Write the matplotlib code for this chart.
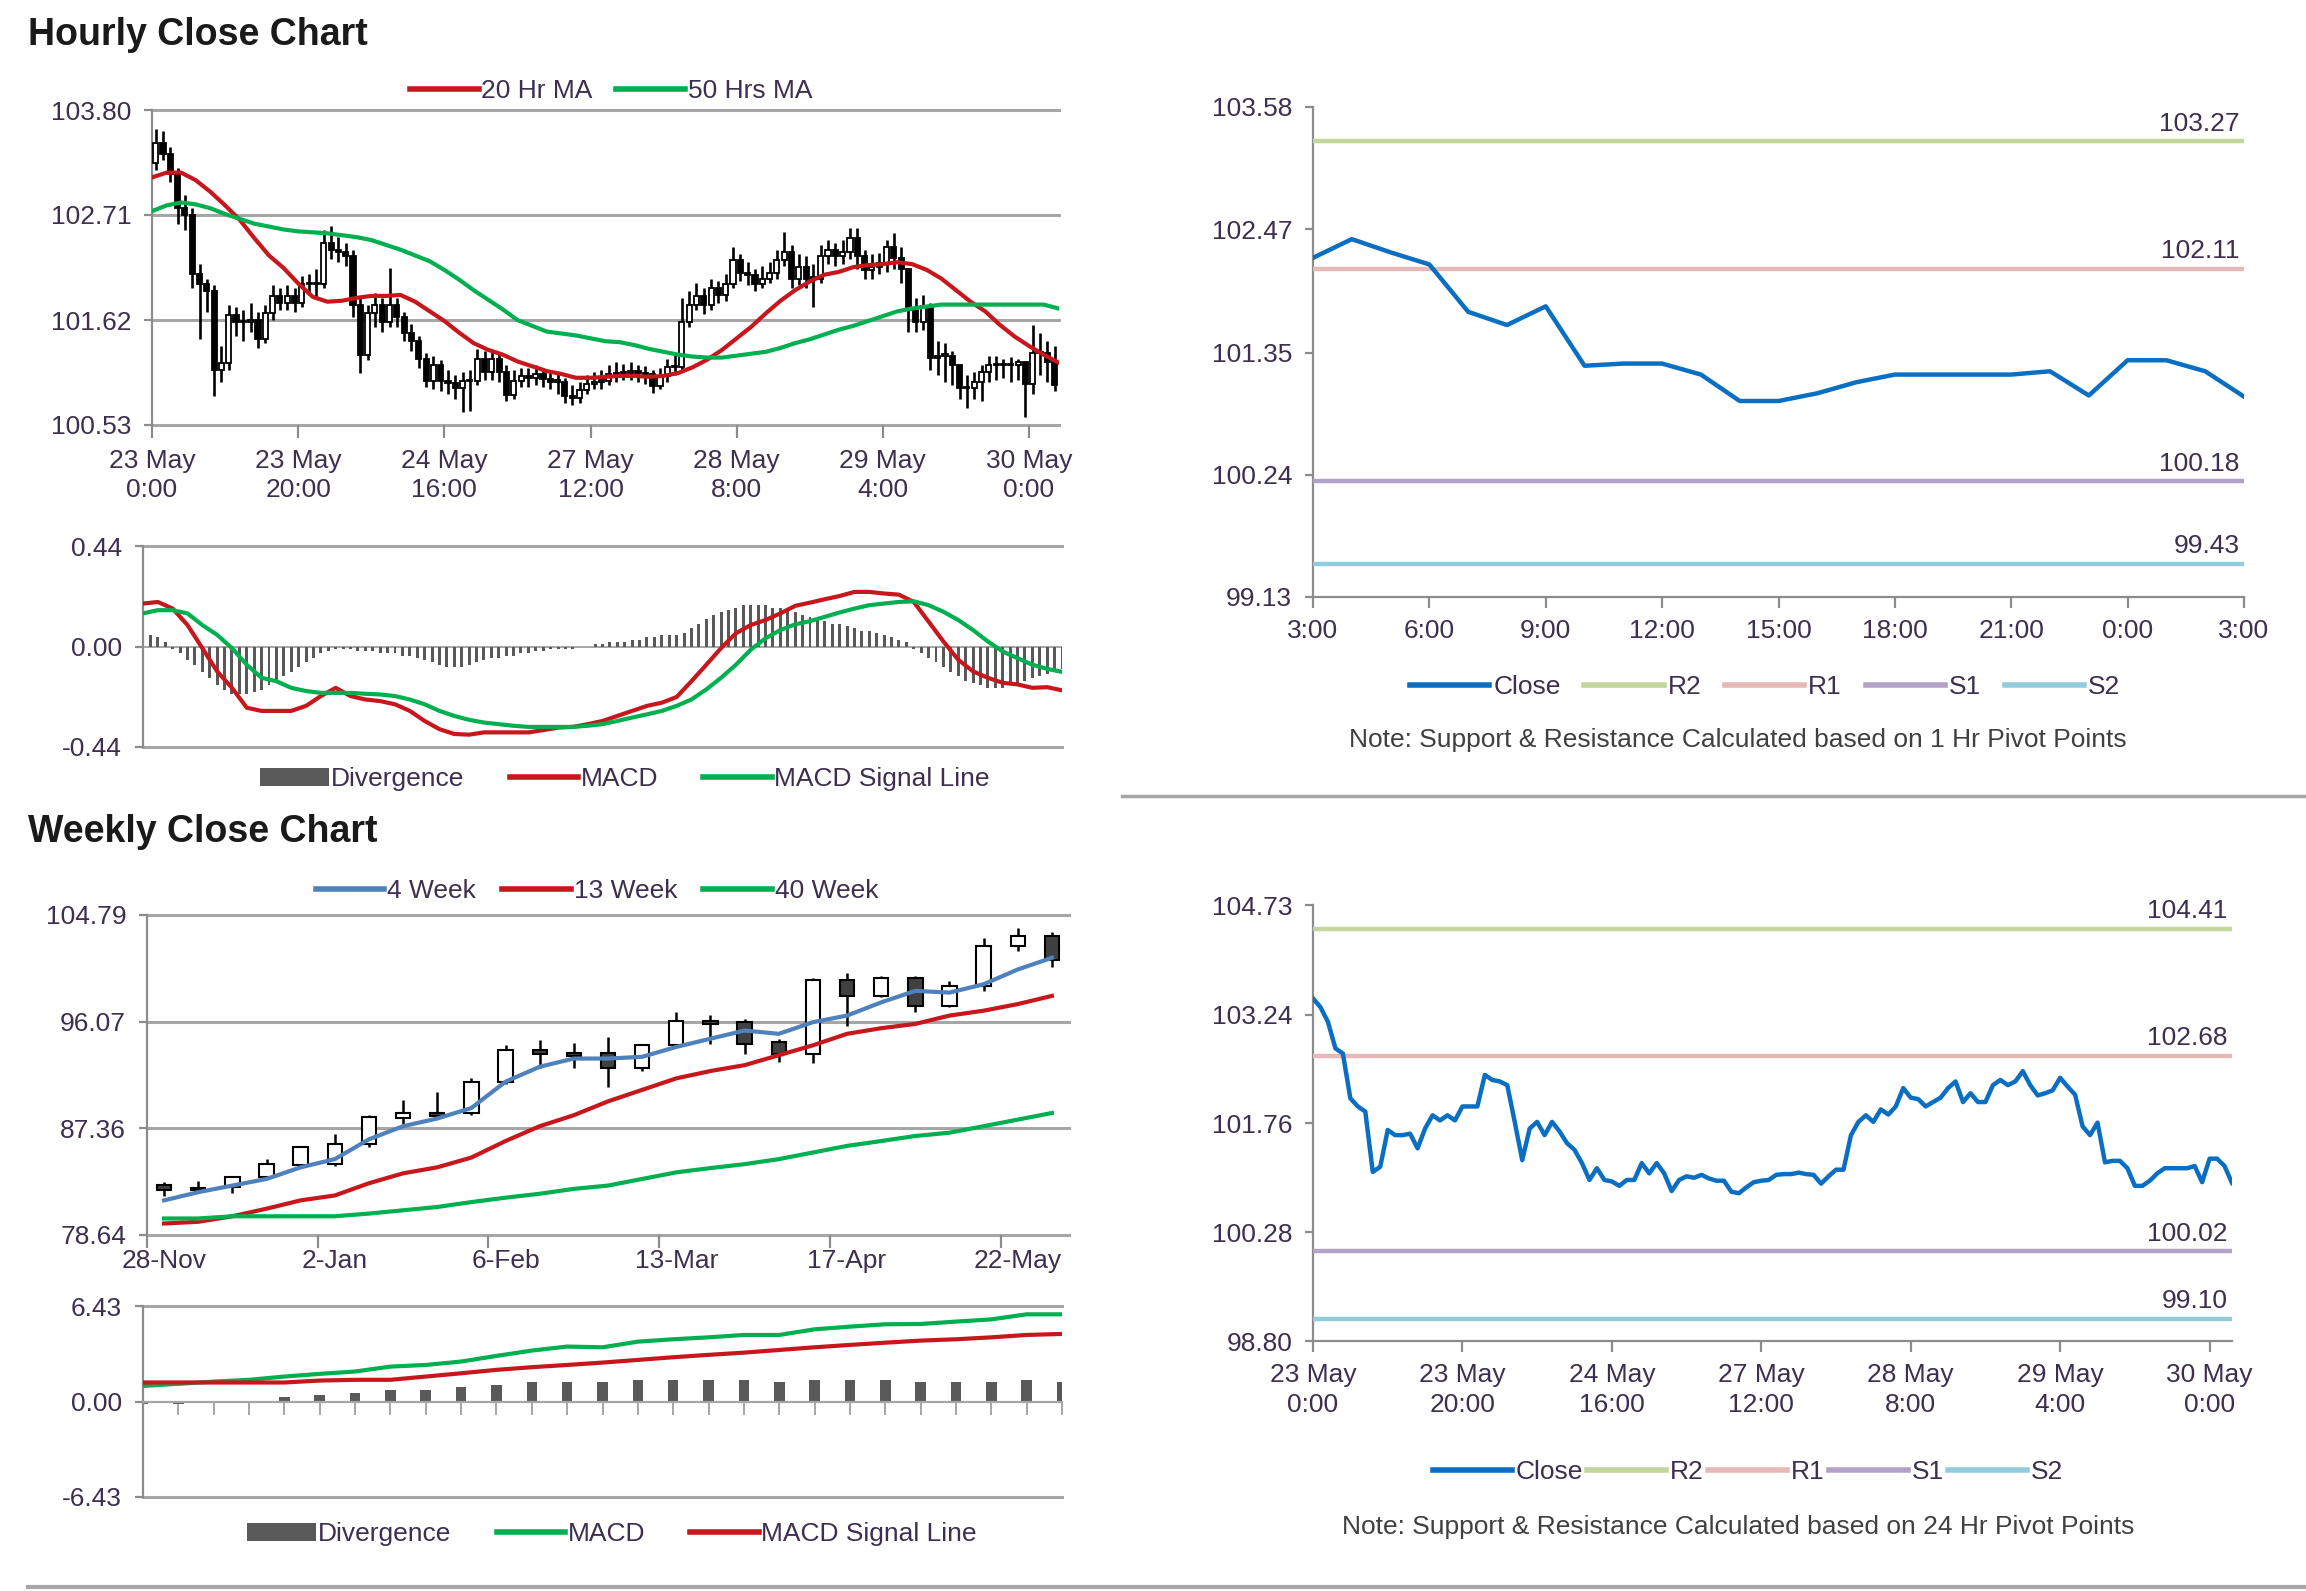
import numpy as np
import matplotlib
matplotlib.use("Agg")
import matplotlib.pyplot as plt
from matplotlib.lines import Line2D
from matplotlib.patches import Patch

plt.rcParams['font.family'] = ['Liberation Sans', 'DejaVu Sans']

# --- hourly data (23 May 0:00 .. 30 May 3:00) ---
hourly_first_open = 103.25
hourly_close = [
    103.46, 103.34, 103.14, 102.78, 102.71, 102.10, 101.99, 101.92, 101.10, 101.17,
    101.67, 101.60, 101.60, 101.62, 101.42, 101.69, 101.87, 101.80, 101.87, 101.80,
    101.99, 101.99, 101.99, 102.42, 102.35, 102.33, 102.28, 101.78, 101.26, 101.69,
    101.78, 101.60, 101.78, 101.65, 101.49, 101.40, 101.22, 100.99, 101.15, 100.99,
    100.97, 100.91, 100.99, 100.99, 101.22, 101.08, 101.22, 101.08, 100.84, 100.99,
    101.04, 101.02, 101.06, 101.01, 100.98, 100.98, 100.83, 100.81, 100.89, 100.96,
    100.98, 100.99, 101.06, 101.07, 101.07, 101.09, 101.07, 101.06, 100.94, 101.04,
    101.13, 101.13, 101.60, 101.78, 101.87, 101.78, 101.95, 101.88, 101.99, 102.24,
    102.11, 102.09, 101.99, 102.05, 102.11, 102.24, 102.33, 102.05, 102.17, 102.05,
    102.05, 102.28, 102.35, 102.28, 102.33, 102.47, 102.28, 102.14, 102.17, 102.21,
    102.38, 102.26, 102.15, 101.72, 101.60, 101.77, 101.23, 101.25, 101.25, 101.15,
    100.91, 100.91, 100.98, 101.08, 101.15, 101.15, 101.15, 101.15, 101.18, 100.96,
    101.28, 101.28, 101.18, 100.95]
hourly_high = [
    103.60, 103.58, 103.42, 103.20, 102.92, 102.78, 102.20, 102.05, 101.98, 101.35,
    101.78, 101.75, 101.72, 101.80, 101.70, 101.78, 101.98, 101.95, 101.98, 101.95,
    102.08, 102.10, 102.15, 102.55, 102.60, 102.48, 102.42, 102.35, 101.85, 101.78,
    101.90, 101.85, 102.16, 101.85, 101.70, 101.58, 101.45, 101.28, 101.25, 101.20,
    101.10, 101.05, 101.08, 101.10, 101.32, 101.30, 101.30, 101.28, 101.15, 101.10,
    101.12, 101.12, 101.15, 101.12, 101.10, 101.08, 101.02, 100.95, 100.98, 101.05,
    101.08, 101.10, 101.15, 101.18, 101.16, 101.18, 101.15, 101.14, 101.10, 101.12,
    101.22, 101.28, 101.85, 101.92, 102.00, 101.95, 102.05, 102.02, 102.10, 102.38,
    102.30, 102.22, 102.15, 102.18, 102.22, 102.35, 102.53, 102.40, 102.30, 102.28,
    102.20, 102.40, 102.45, 102.42, 102.45, 102.57, 102.57, 102.35, 102.30, 102.32,
    102.45, 102.52, 102.38, 102.15, 101.85, 101.88, 101.80, 101.40, 101.38, 101.30,
    101.12, 101.05, 101.08, 101.15, 101.25, 101.25, 101.22, 101.24, 101.22, 101.18,
    101.57, 101.48, 101.40, 101.35]
hourly_low = [
    103.18, 103.28, 103.05, 102.62, 102.55, 101.95, 101.42, 101.70, 100.83, 100.98,
    101.10, 101.45, 101.40, 101.50, 101.33, 101.38, 101.62, 101.72, 101.72, 101.70,
    101.75, 101.88, 101.85, 101.95, 102.25, 102.22, 102.18, 101.65, 101.07, 101.20,
    101.55, 101.50, 101.55, 101.55, 101.40, 101.30, 101.12, 100.92, 100.90, 100.88,
    100.85, 100.80, 100.66, 100.68, 100.95, 101.00, 101.00, 100.98, 100.78, 100.80,
    100.92, 100.92, 100.95, 100.92, 100.90, 100.85, 100.76, 100.74, 100.76, 100.85,
    100.90, 100.90, 100.95, 100.98, 101.00, 101.00, 100.98, 100.96, 100.86, 100.90,
    100.98, 101.05, 101.10, 101.55, 101.72, 101.68, 101.72, 101.80, 101.82, 101.95,
    102.02, 101.98, 101.92, 101.95, 102.00, 102.05, 102.18, 101.95, 101.98, 101.95,
    101.75, 102.00, 102.20, 102.18, 102.20, 102.25, 102.15, 102.05, 102.05, 102.10,
    102.12, 102.15, 102.00, 101.50, 101.50, 101.52, 101.10, 101.05, 100.98, 100.95,
    100.80, 100.71, 100.80, 100.78, 100.98, 101.00, 101.02, 100.98, 101.00, 100.61,
    100.85, 101.05, 100.98, 100.88]

ma_hours = list(range(0, 125, 2))
ma20_hourly = [
    103.10, 103.15, 103.15, 103.07, 102.95, 102.81, 102.66, 102.47, 102.29, 102.16,
    102.00, 101.86, 101.81, 101.82, 101.85, 101.87, 101.87, 101.88, 101.81, 101.71,
    101.61, 101.49, 101.38, 101.31, 101.26, 101.19, 101.14, 101.09, 101.06, 101.02,
    101.02, 101.03, 101.04, 101.04, 101.03, 101.04, 101.07, 101.13, 101.21, 101.31,
    101.43, 101.55, 101.69, 101.82, 101.93, 102.02, 102.09, 102.12, 102.17, 102.19,
    102.20, 102.22, 102.20, 102.14, 102.05, 101.93, 101.81, 101.71, 101.57, 101.45,
    101.35, 101.26, 101.18]
ma50_hourly = [
    102.75, 102.81, 102.84, 102.82, 102.78, 102.72, 102.67, 102.62, 102.59, 102.56,
    102.54, 102.53, 102.52, 102.50, 102.48, 102.45, 102.40, 102.35, 102.29, 102.23,
    102.14, 102.04, 101.93, 101.83, 101.73, 101.62, 101.56, 101.50, 101.48, 101.46,
    101.43, 101.40, 101.39, 101.36, 101.32, 101.29, 101.26, 101.24, 101.23, 101.23,
    101.25, 101.27, 101.29, 101.33, 101.38, 101.42, 101.47, 101.52, 101.56, 101.61,
    101.66, 101.71, 101.74, 101.76, 101.78, 101.78, 101.78, 101.78, 101.78, 101.78,
    101.78, 101.78, 101.74]

macd_hourly = [
    0.188, 0.195, 0.166, 0.094, -0.007, -0.109, -0.181, -0.268, -0.282, -0.282,
    -0.282, -0.260, -0.217, -0.181, -0.217, -0.232, -0.239, -0.253, -0.282, -0.326,
    -0.362, -0.383, -0.386, -0.376, -0.376, -0.376, -0.376, -0.366, -0.355, -0.352,
    -0.340, -0.326, -0.304, -0.282, -0.260, -0.246, -0.221, -0.152, -0.080, -0.007,
    0.058, 0.094, 0.116, 0.145, 0.178, 0.192, 0.207, 0.221, 0.239, 0.239,
    0.232, 0.227, 0.195, 0.109, 0.022, -0.058, -0.109, -0.137, -0.159, -0.166,
    -0.181, -0.178, -0.192]
signal_hourly = [
    0.145, 0.159, 0.159, 0.145, 0.094, 0.051, -0.007, -0.080, -0.137, -0.152,
    -0.181, -0.195, -0.203, -0.203, -0.203, -0.207, -0.210, -0.217, -0.232, -0.253,
    -0.282, -0.304, -0.321, -0.333, -0.340, -0.347, -0.352, -0.352, -0.352, -0.352,
    -0.347, -0.340, -0.326, -0.311, -0.297, -0.282, -0.260, -0.232, -0.188, -0.137,
    -0.080, -0.014, 0.036, 0.072, 0.097, 0.111, 0.130, 0.149, 0.166, 0.181,
    0.188, 0.195, 0.198, 0.181, 0.152, 0.116, 0.072, 0.022, -0.022, -0.051,
    -0.080, -0.098, -0.111]
div_hourly = [
    0.05, 0.05, 0.04, 0.02, -0.01, -0.03, -0.06, -0.08, -0.11, -0.14,
    -0.17, -0.19, -0.21, -0.21, -0.21, -0.20, -0.19, -0.17, -0.15, -0.13,
    -0.11, -0.09, -0.07, -0.05, -0.03, -0.02, -0.01, -0.01, -0.01, -0.02,
    -0.02, -0.02, -0.03, -0.03, -0.03, -0.04, -0.04, -0.05, -0.06, -0.07,
    -0.08, -0.09, -0.09, -0.09, -0.08, -0.07, -0.06, -0.05, -0.05, -0.04,
    -0.04, -0.03, -0.03, -0.02, -0.02, -0.01, -0.01, -0.01, -0.01, 0.00,
    0.00, 0.01, 0.01, 0.02, 0.02, 0.02, 0.03, 0.03, 0.04, 0.04,
    0.05, 0.05, 0.05, 0.06, 0.08, 0.10, 0.12, 0.14, 0.15, 0.16,
    0.17, 0.18, 0.18, 0.18, 0.18, 0.17, 0.17, 0.16, 0.15, 0.14,
    0.13, 0.12, 0.11, 0.10, 0.10, 0.09, 0.08, 0.07, 0.07, 0.06,
    0.05, 0.04, 0.03, 0.02, -0.01, -0.03, -0.05, -0.07, -0.09, -0.11,
    -0.13, -0.15, -0.16, -0.17, -0.18, -0.18, -0.18, -0.17, -0.16, -0.15,
    -0.14, -0.13, -0.12, -0.11, -0.10]

hourly_ticks = [0, 20, 40, 60, 80, 100, 120]
hourly_labels = ['23 May\n0:00', '23 May\n20:00', '24 May\n16:00', '27 May\n12:00',
                 '28 May\n8:00', '29 May\n4:00', '30 May\n0:00']

# --- weekly data ---
weekly_open = [82.75, 82.50, 82.55, 83.36, 84.40, 84.45, 86.05, 88.20, 88.65, 88.60,
               91.12, 93.74, 93.55, 93.55, 92.25, 94.14, 96.16, 96.03, 94.41, 93.47,
               99.45, 98.18, 99.64, 97.38, 99.00, 102.28, 103.04]
weekly_high = [82.95, 83.03, 83.49, 84.84, 85.95, 86.86, 88.43, 89.69, 90.31, 91.50,
               94.14, 94.55, 94.33, 94.82, 94.28, 96.84, 96.62, 96.30, 94.63, 99.67,
               100.07, 99.80, 99.80, 99.40, 102.90, 103.71, 103.44]
weekly_low = [81.80, 82.14, 82.06, 83.22, 84.30, 84.30, 85.84, 87.67, 88.26, 88.48,
              90.96, 92.25, 92.25, 90.77, 92.04, 94.01, 94.28, 93.47, 92.79, 92.66,
              95.76, 98.05, 96.89, 97.24, 98.59, 101.82, 100.56]
weekly_close = [82.30, 82.30, 83.36, 84.43, 85.84, 86.05, 88.26, 88.65, 88.35, 91.12,
                93.74, 93.47, 93.28, 92.25, 94.14, 96.16, 95.89, 94.28, 93.47, 99.45,
                98.18, 99.67, 97.38, 99.00, 102.23, 103.04, 101.15]
ma4_weekly = [81.47, 82.14, 82.68, 83.22, 84.17, 84.84, 86.46, 87.53, 88.16, 89.02,
              91.17, 92.39, 93.06, 93.06, 93.20, 94.01, 94.68, 95.35, 95.08, 96.03,
              96.57, 97.65, 98.59, 98.45, 99.13, 100.34, 101.29]
ma13_weekly = [79.58, 79.72, 80.17, 80.79, 81.47, 81.87, 82.87, 83.68, 84.17, 84.97,
               86.32, 87.53, 88.43, 89.56, 90.50, 91.44, 92.04, 92.52, 93.33, 94.14,
               95.08, 95.54, 95.89, 96.57, 96.97, 97.51, 98.18]
ma40_weekly = [79.99, 79.99, 80.17, 80.17, 80.17, 80.17, 80.39, 80.66, 80.93, 81.33,
               81.69, 82.01, 82.41, 82.68, 83.22, 83.76, 84.11, 84.43, 84.84, 85.38,
               85.92, 86.32, 86.73, 87.00, 87.53, 88.07, 88.61]
macd_weekly = [1.05, 1.19, 1.34, 1.46, 1.68, 1.86, 2.02, 2.35, 2.46, 2.69,
               3.07, 3.43, 3.70, 3.65, 4.03, 4.19, 4.32, 4.48, 4.48, 4.86,
               5.04, 5.20, 5.22, 5.38, 5.53, 5.87, 5.87]
signal_weekly = [1.28, 1.28, 1.28, 1.28, 1.28, 1.41, 1.46, 1.46, 1.68, 1.90,
                 2.13, 2.31, 2.46, 2.62, 2.80, 2.98, 3.14, 3.29, 3.47, 3.65,
                 3.81, 3.96, 4.10, 4.19, 4.32, 4.48, 4.55]
div_weekly = [-0.16, -0.16, 0.0, 0.0, 0.27, 0.43, 0.60, 0.78, 0.78, 0.96,
              1.12, 1.28, 1.28, 1.28, 1.46, 1.46, 1.46, 1.46, 1.28, 1.46,
              1.46, 1.46, 1.28, 1.28, 1.28, 1.46, 1.28]
weekly_labels = ['28-Nov', '2-Jan', '6-Feb', '13-Mar', '17-Apr', '22-May']

# --- pivot levels ---
pivot_names = ['R2', 'R1', 'S1', 'S2']
pivot_1h = [103.27, 102.11, 100.18, 99.43]
pivot_24h = [104.41, 102.68, 100.02, 99.10]
pivot_1h_labels = ['3:00', '6:00', '9:00', '12:00', '15:00', '18:00', '21:00', '0:00', '3:00']

# --- style ---
GRID = '#a6a6a6'
AXIS = '#8c8c8c'
TXT = '#3d2f4f'
RED = '#c8161d'
GREEN = '#00b050'
BLUE4 = '#4f81bd'
CLOSE_BLUE = '#0a6fc2'
DIV = '#595959'
PIV_COLORS = ['#c3d69b', '#e6b9b8', '#b3a2c7', '#93cddd']
FS = 19

W, H = 2306, 1591
fig = plt.figure(figsize=(W / 100, H / 100), dpi=100)


def box(x0, y0, x1, y1):
    # pixel box (top-left origin) -> figure fraction rect
    return [x0 / W, 1 - y1 / H, (x1 - x0) / W, (y1 - y0) / H]


def base_style(ax):
    for s in ['top', 'right', 'bottom']:
        ax.spines[s].set_visible(False)
    ax.spines['left'].set_color(AXIS)
    ax.spines['left'].set_linewidth(1.6)
    ax.tick_params(axis='both', colors=AXIS, labelcolor=TXT, labelsize=FS)
    ax.tick_params(axis='y', length=6, width=1.6, pad=9)
    ax.set_facecolor('none')


def hgrid(ax, vals, lw=2.2):
    for v in vals:
        ax.axhline(v, color=GRID, lw=lw, clip_on=False, zorder=0)


def candles(ax, x, o, h, l, c, width, wick_lw, edge_lw, dark):
    o = np.asarray(o); h = np.asarray(h); l = np.asarray(l); c = np.asarray(c)
    ax.vlines(x, l, h, color='black', lw=wick_lw, zorder=2)
    up = c >= o
    colors = np.where(up, 'white', dark)
    bottoms = np.minimum(o, c)
    heights = np.maximum(np.abs(c - o), 0.004 * (h.max() - l.min()))
    ax.bar(x, heights, bottom=bottoms, width=width, color=colors,
           edgecolor='black', linewidth=edge_lw, zorder=3)


# ---------------- Hourly candle chart ----------------
ax1 = fig.add_axes(box(152, 110, 1059, 425))
base_style(ax1)
n_h = len(hourly_close)
hx = np.arange(n_h) + 0.5
hopen = np.concatenate([[hourly_first_open], hourly_close[:-1]])
candles(ax1, hx, hopen, hourly_high, hourly_low, hourly_close, 0.7, 1.9, 1.3, 'black')
ax1.plot(ma_hours, ma20_hourly, color=RED, lw=3, zorder=4)
ax1.plot(ma_hours, ma50_hourly, color=GREEN, lw=3, zorder=4)
h_yticks = [100.53, 101.62, 102.71, 103.80]
ax1.set_ylim(100.53, 103.80)
ax1.set_xlim(0, 124.1)
ax1.set_yticks(h_yticks, [f'{v:.2f}' for v in h_yticks])
hgrid(ax1, h_yticks)
ax1.set_xticks(hourly_ticks, hourly_labels, linespacing=1.3)
ax1.tick_params(axis='x', length=9, width=1.6, pad=8, colors=AXIS, labelcolor=TXT)
fig.legend([Line2D([], [], color=RED, lw=4), Line2D([], [], color=GREEN, lw=4)],
           ['20 Hr MA', '50 Hrs MA'], loc='center', bbox_to_anchor=(611 / W, 1 - 91 / H),
           ncol=2, frameon=False, fontsize=FS, handlelength=2.6, handletextpad=0.1,
           columnspacing=0.9, labelcolor=TXT)
fig.text(28 / W, 1 - 35 / H, 'Hourly Close Chart', fontsize=27, fontweight='bold',
         color='#1a1a1a', va='center', ha='left')

# ---------------- Hourly MACD ----------------
ax2 = fig.add_axes(box(143, 546, 1062, 747))
base_style(ax2)
ax2.bar(np.arange(len(div_hourly)), div_hourly, width=0.4, color=DIV, zorder=2)
ax2.plot(ma_hours, macd_hourly, color=RED, lw=3, zorder=4)
ax2.plot(ma_hours, signal_hourly, color=GREEN, lw=3, zorder=4)
ax2.set_ylim(-0.44, 0.44)
ax2.set_xlim(0, 124)
ax2.set_yticks([-0.44, 0, 0.44], ['-0.44', '0.00', '0.44'])
ax2.set_xticks([])
hgrid(ax2, [-0.44, 0.44])
ax2.axhline(0, color=GRID, lw=1.4, zorder=1)
fig.legend([Patch(facecolor=DIV), Line2D([], [], color=RED, lw=4), Line2D([], [], color=GREEN, lw=4)],
           ['Divergence', 'MACD', 'MACD Signal Line'], loc='center',
           bbox_to_anchor=(625 / W, 1 - 779 / H), ncol=3, frameon=False, fontsize=FS,
           handlelength=2.6, handletextpad=0.1, columnspacing=1.7, labelcolor=TXT)

# ---------------- Weekly candle chart ----------------
ax3 = fig.add_axes(box(147, 915, 1069, 1235))
base_style(ax3)
n_w = len(weekly_close)
wx = np.arange(n_w) + 0.5
candles(ax3, wx, weekly_open, weekly_high, weekly_low, weekly_close, 0.42, 1.8, 1.5, '#404040')
ax3.plot(wx, ma4_weekly, color=BLUE4, lw=3, zorder=4)
ax3.plot(wx, ma13_weekly, color=RED, lw=3, zorder=4)
ax3.plot(wx, ma40_weekly, color=GREEN, lw=3, zorder=4)
w_yticks = [78.64, 87.36, 96.07, 104.79]
ax3.set_ylim(78.64, 104.79)
ax3.set_xlim(0, n_w)
ax3.set_yticks(w_yticks, [f'{v:.2f}' for v in w_yticks])
hgrid(ax3, w_yticks)
ax3.set_xticks([0, 5, 10, 15, 20, 25], [''] * 6)
ax3.set_xticks([0.5, 5.5, 10.5, 15.5, 20.5, 25.5], weekly_labels, minor=True)
ax3.tick_params(axis='x', which='major', length=9, width=1.6, colors=AXIS)
ax3.tick_params(axis='x', which='minor', length=0, pad=10, labelsize=FS, labelcolor=TXT)
fig.legend([Line2D([], [], color=BLUE4, lw=4), Line2D([], [], color=RED, lw=4),
            Line2D([], [], color=GREEN, lw=4)],
           ['4 Week', '13 Week', '40 Week'], loc='center',
           bbox_to_anchor=(597 / W, 1 - 891 / H), ncol=3, frameon=False, fontsize=FS,
           handlelength=2.6, handletextpad=0.1, columnspacing=1.0, labelcolor=TXT)
fig.text(28 / W, 1 - 832 / H, 'Weekly Close Chart', fontsize=27, fontweight='bold',
         color='#1a1a1a', va='center', ha='left')

# ---------------- Weekly MACD ----------------
ax4 = fig.add_axes(box(143, 1306, 1062, 1497))
base_style(ax4)
kx = np.arange(n_w)
ax4.bar(kx, div_weekly, width=0.3, color=DIV, zorder=2)
ax4.plot(kx, macd_weekly, color=GREEN, lw=3, zorder=4)
ax4.plot(kx, signal_weekly, color=RED, lw=3, zorder=4)
ax4.set_ylim(-6.43, 6.43)
ax4.set_xlim(0, n_w - 1)
ax4.set_yticks([-6.43, 0, 6.43], ['-6.43', '0.00', '6.43'])
hgrid(ax4, [-6.43, 6.43])
ax4.spines['bottom'].set_visible(True)
ax4.spines['bottom'].set_position(('data', 0))
ax4.spines['bottom'].set_color(GRID)
ax4.spines['bottom'].set_linewidth(1.6)
ax4.set_xticks(kx, [''] * n_w)
ax4.tick_params(axis='x', length=9, width=1.4, colors=GRID)
fig.legend([Patch(facecolor=DIV), Line2D([], [], color=GREEN, lw=4), Line2D([], [], color=RED, lw=4)],
           ['Divergence', 'MACD', 'MACD Signal Line'], loc='center',
           bbox_to_anchor=(612 / W, 1 - 1534 / H), ncol=3, frameon=False, fontsize=FS,
           handlelength=2.6, handletextpad=0.1, columnspacing=1.7, labelcolor=TXT)


# ---------------- Pivot charts ----------------
def pivot_chart(rect, close, levels, yticks, ylabels, xticks, xlabels, xmax,
                legend_xy, legend_sp, note, note_y):
    ax = fig.add_axes(rect)
    base_style(ax)
    ax.spines['bottom'].set_visible(True)
    ax.spines['bottom'].set_color(AXIS)
    ax.spines['bottom'].set_linewidth(1.6)
    ax.plot(np.arange(len(close)), close, color=CLOSE_BLUE, lw=3.2, zorder=4)
    for v, col in zip(levels, PIV_COLORS):
        ax.axhline(v, color=col, lw=3.2, zorder=3)
        ax.annotate(f'{v:.2f}', (xmax, v), xytext=(-3, 4), textcoords='offset points',
                    ha='right', va='bottom', fontsize=FS, color=TXT)
    ax.set_xlim(0, xmax)
    ax.set_ylim(yticks[0], yticks[-1])
    ax.set_yticks(yticks, ylabels)
    ax.set_xticks(xticks, xlabels, linespacing=1.3)
    ax.tick_params(axis='x', length=8, width=1.6, pad=8)
    handles = [Line2D([], [], color=CLOSE_BLUE, lw=4)] + \
              [Line2D([], [], color=c, lw=4) for c in PIV_COLORS]
    fig.legend(handles, ['Close'] + pivot_names, loc='center', bbox_to_anchor=legend_xy,
               ncol=5, frameon=False, fontsize=FS, handlelength=3.0, handletextpad=0.15,
               columnspacing=legend_sp, labelcolor=TXT)
    fig.text(1738 / W, note_y, note, fontsize=19, color='#404040', ha='center', va='center')
    return ax


pivot_chart(box(1313, 107, 2244, 597), hourly_close[99:124], pivot_1h,
            [99.13, 100.24, 101.35, 102.47, 103.58],
            ['99.13', '100.24', '101.35', '102.47', '103.58'],
            list(range(0, 25, 3)), pivot_1h_labels, 24,
            (1765 / W, 1 - 687 / H), 0.9,
            'Note: Support & Resistance Calculated based on 1 Hr Pivot Points', 1 - 740 / H)

pivot_chart(box(1313, 905, 2232, 1341), hourly_close, pivot_24h,
            [98.80, 100.28, 101.76, 103.24, 104.73],
            ['98.80', '100.28', '101.76', '103.24', '104.73'],
            hourly_ticks, hourly_labels, len(hourly_close) - 1,
            (1748 / W, 1 - 1472 / H), 0.15,
            'Note: Support & Resistance Calculated based on 24 Hr Pivot Points', 1 - 1527 / H)

# separators
fig.add_artist(Line2D([1122 / W, 1], [1 - 796 / H] * 2, color=GRID, lw=2.5))
fig.add_artist(Line2D([28 / W, 1], [1 - 1587 / H] * 2, color=GRID, lw=3))

fig.savefig('out.png', dpi=100)
